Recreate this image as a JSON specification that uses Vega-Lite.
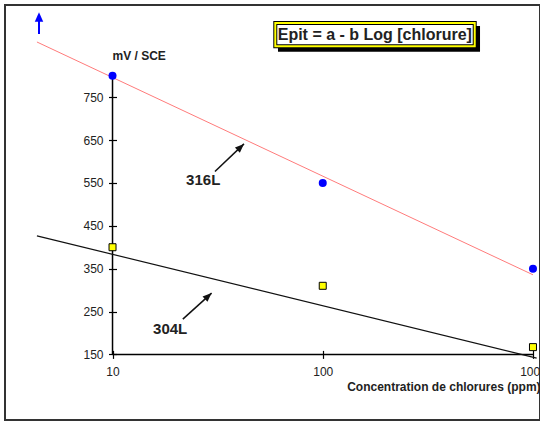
{
  "$schema": "https://vega.github.io/schema/vega-lite/v6.json",
  "width": 535,
  "height": 415,
  "autosize": {"type": "none"},
  "padding": {"left": 5, "top": 5, "right": 0, "bottom": 1},
  "background": "white",
  "config": {
    "view": {"stroke": "#333333", "strokeWidth": 2},
    "font": "Liberation Sans"
  },
  "datasets": {
    "points": [
      {"x": 10, "y": 800, "s": "316L"},
      {"x": 100, "y": 550, "s": "316L"},
      {"x": 1000, "y": 350, "s": "316L"},
      {"x": 10, "y": 400, "s": "304L"},
      {"x": 100, "y": 310, "s": "304L"},
      {"x": 1000, "y": 167, "s": "304L"}
    ],
    "fits": [
      {"s": "316L", "x": 4.37, "y": 878.7, "x2": 1000, "y2": 335.7},
      {"s": "304L", "x": 4.37, "y": 426.6, "x2": 1041, "y2": 141.4}
    ],
    "axislines": [
      {"x": 10, "y": 150, "x2": 10, "y2": 800},
      {"x": 10, "y": 150, "x2": 1000, "y2": 150}
    ],
    "shafts": [
      {"x": 30.7, "y": 576.5, "x2": 42.2, "y2": 641},
      {"x": 21.6, "y": 232.4, "x2": 29.6, "y2": 293}
    ],
    "heads": [
      {"x": 42.2, "y": 641},
      {"x": 29.6, "y": 293}
    ],
    "blueshaft": [{"x": 4.47, "y": 897.4, "x2": 4.47, "y2": 932}],
    "bluehead": [{"x": 4.47, "y": 948}],
    "unit": [{"x": 10, "y": 836.8, "t": "mV / SCE"}],
    "steels": [
      {"x": 27.0, "y": 545.5, "t": "316L"},
      {"x": 18.8, "y": 197.4, "t": "304L"}
    ],
    "shadow": [{"x": 61.25, "x2": 559.9, "y": 916.0, "y2": 856.1}],
    "box": [{"x": 59.47, "x2": 528.3, "y": 923.0, "y2": 868.7}],
    "formula": [{"x": 176.9, "y": 883.4, "t": "Epit = a - b Log [chlorure]"}]
  },
  "encoding": {
    "x": {
      "field": "x",
      "type": "quantitative",
      "scale": {"type": "log", "domain": [3.08, 1080], "nice": false},
      "axis": {
        "orient": "bottom",
        "offset": -69.6,
        "domain": false,
        "grid": false,
        "values": [10, 100, 1000],
        "format": "d",
        "tickSize": 8,
        "tickWidth": 1.2,
        "tickColor": "#000000",
        "labelFont": "Liberation Sans",
        "labelFontSize": 12,
        "labelColor": "#222222",
        "labelPadding": 8,
        "labelFlush": false,
        "labelOverlap": false,
        "title": "Concentration de chlorures (ppm)",
        "titleFont": "Liberation Sans",
        "titleFontSize": 12,
        "titleFontWeight": "bold",
        "titleColor": "#222222",
        "titleAlign": "left",
        "titleBaseline": "alphabetic",
        "titleX": 341.7,
        "titleY": 39.6
      }
    },
    "y": {
      "field": "y",
      "type": "quantitative",
      "scale": {"domain": [-3, 965], "nice": false, "zero": false},
      "axis": {
        "orient": "left",
        "offset": -111.5,
        "domain": false,
        "grid": false,
        "values": [150, 250, 350, 450, 550, 650, 750],
        "tickSize": 8,
        "tickWidth": 1.2,
        "tickColor": "#000000",
        "labelFont": "Liberation Sans",
        "labelFontSize": 12,
        "labelColor": "#222222",
        "labelPadding": 5.5,
        "labelFlush": false,
        "labelOverlap": false,
        "title": null
      }
    }
  },
  "layer": [
    {
      "data": {"name": "axislines"},
      "mark": {"type": "rule", "color": "#000000", "strokeWidth": 1.5},
      "encoding": {"x2": {"field": "x2"}, "y2": {"field": "y2"}}
    },
    {
      "data": {"name": "fits"},
      "transform": [{"filter": "datum.s === '316L'"}],
      "mark": {"type": "rule", "color": "#ff7b7b", "strokeWidth": 1},
      "encoding": {"x2": {"field": "x2"}, "y2": {"field": "y2"}}
    },
    {
      "data": {"name": "fits"},
      "transform": [{"filter": "datum.s === '304L'"}],
      "mark": {"type": "rule", "color": "#111111", "strokeWidth": 1.2},
      "encoding": {"x2": {"field": "x2"}, "y2": {"field": "y2"}}
    },
    {
      "data": {"name": "shafts"},
      "mark": {"type": "rule", "color": "#111111", "strokeWidth": 1.5},
      "encoding": {"x2": {"field": "x2"}, "y2": {"field": "y2"}}
    },
    {
      "data": {"name": "heads"},
      "mark": {"type": "point", "shape": "M0,0L0.4,1L-0.4,1Z", "filled": true, "color": "#111111", "opacity": 1, "size": 324, "angle": 47}
    },
    {
      "data": {"name": "blueshaft"},
      "mark": {"type": "rule", "color": "#0000ff", "strokeWidth": 2},
      "encoding": {"x2": {"field": "x2"}, "y2": {"field": "y2"}}
    },
    {
      "data": {"name": "bluehead"},
      "mark": {"type": "point", "shape": "M0,0L0.45,1L-0.45,1Z", "filled": true, "color": "#0000ff", "opacity": 1, "size": 353}
    },
    {
      "data": {"name": "points"},
      "transform": [{"filter": "datum.s === '316L'"}],
      "mark": {"type": "point", "shape": "circle", "filled": true, "color": "#0000ff", "opacity": 1, "size": 64}
    },
    {
      "data": {"name": "points"},
      "transform": [{"filter": "datum.s === '304L'"}],
      "mark": {"type": "point", "shape": "square", "filled": true, "fill": "#ffff00", "stroke": "#000000", "strokeWidth": 1, "opacity": 1, "size": 49}
    },
    {
      "data": {"name": "unit"},
      "mark": {"type": "text", "align": "left", "baseline": "alphabetic", "font": "Liberation Sans", "fontSize": 12, "fontWeight": "bold", "color": "#222222"},
      "encoding": {"text": {"field": "t"}}
    },
    {
      "data": {"name": "steels"},
      "mark": {"type": "text", "align": "center", "baseline": "alphabetic", "font": "Liberation Sans", "fontSize": 15, "fontWeight": "bold", "color": "#222222"},
      "encoding": {"text": {"field": "t"}}
    },
    {
      "data": {"name": "shadow"},
      "mark": {"type": "rect", "color": "#000000", "opacity": 1},
      "encoding": {"x2": {"field": "x2"}, "y2": {"field": "y2"}}
    },
    {
      "data": {"name": "box"},
      "mark": {"type": "rect", "fill": "#ffffff", "stroke": "#000000", "strokeWidth": 4, "opacity": 1},
      "encoding": {"x2": {"field": "x2"}, "y2": {"field": "y2"}}
    },
    {
      "data": {"name": "box"},
      "mark": {"type": "rect", "fill": null, "stroke": "#ffff00", "strokeWidth": 2, "opacity": 1},
      "encoding": {"x2": {"field": "x2"}, "y2": {"field": "y2"}}
    },
    {
      "data": {"name": "formula"},
      "mark": {"type": "text", "align": "center", "baseline": "alphabetic", "font": "Liberation Sans", "fontSize": 16, "fontWeight": "bold", "color": "#222222"},
      "encoding": {"text": {"field": "t"}}
    }
  ]
}
